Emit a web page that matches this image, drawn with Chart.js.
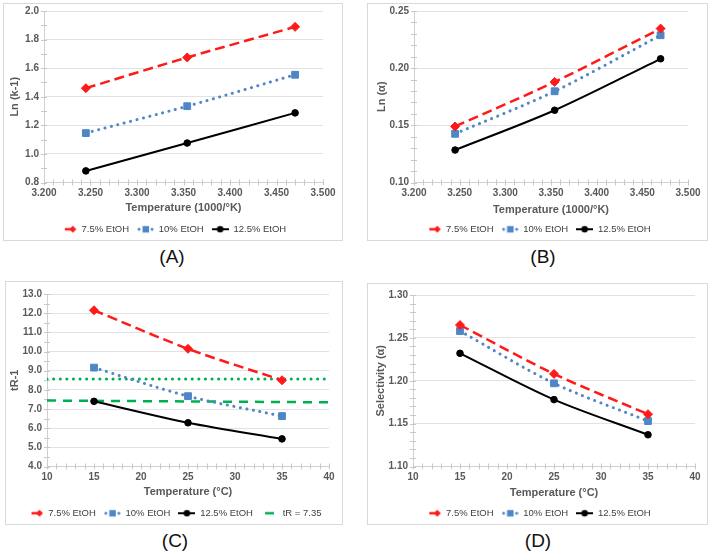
<!DOCTYPE html>
<html><head><meta charset="utf-8">
<script src="https://cdn.jsdelivr.net/npm/chart.js@4"></script>
<style>
body{margin:0;width:709px;height:552px;background:#fff;position:relative;overflow:hidden;font-family:"Liberation Sans",Arial,sans-serif}
.box{position:absolute;border:1px solid #d9d9d9;box-sizing:border-box}
canvas{position:absolute}
.cap{position:absolute;font-size:19px;color:#111;transform:translate(-50%,-50%);white-space:nowrap}
</style></head><body>
<script>
// ---------------- data ----------------
const invTemp = [3.245, 3.354, 3.470];          // 1000/K
const tempC = [15, 25, 35];                     // °C
const seriesNames = ['7.5% EtOH', '10% EtOH', '12.5% EtOH'];

const lnK_75 = [1.460, 1.675, 1.889];
const lnK_10 = [1.146, 1.334, 1.554];
const lnK_125 = [0.881, 1.076, 1.287];

const lnA_75 = [0.149, 0.188, 0.2346];
const lnA_10 = [0.1426, 0.1798, 0.2288];
const lnA_125 = [0.1284, 0.1632, 0.2082];

const tR_75 = [12.15, 10.14, 8.50];
const tR_10 = [9.16, 7.67, 6.63];
const tR_125 = [7.40, 6.28, 5.44];
const refLineX = [10, 40];
const tRRefLabel = 'tR = 7.35';
const tRRef = [7.44, 7.35];
const tRUpper = [8.57, 8.57];

const sel_75 = [1.265, 1.208, 1.161];
const sel_10 = [1.258, 1.197, 1.153];
const sel_125 = [1.232, 1.178, 1.137];

// axis ranges: [min, max, step, minorStep, decimals]
const axInvTemp = [3.2, 3.5, 0.05, 0.01, 3];
const axTempC = [10, 40, 5, 1, 0];
const axLnK = [0.8, 2.0, 0.2, 0.1, 1];
const axLnA = [0.10, 0.25, 0.05, 0.01, 2];
const axTR = [4, 13, 1, 0.5, 1];
const axSel = [1.10, 1.30, 0.05, 0.01, 2];

const xTitleK = 'Temperature (1000/°K)';
const xTitleC = 'Temperature (°C)';
const yTitles = ['Ln (k-1)', 'Ln (α)', 'tR-1', 'Selectivity (α)'];
const captions = ['(A)', '(B)', '(C)', '(D)'];

// ---------------- styling / layout ----------------
const RED = '#ff1a1a', BLUE = '#4f86c6', BLACK = '#000000', GREEN = '#00b050';
const FONT = '"Liberation Sans", Arial, sans-serif';
const LEG_FONT = 9.5, LEG_PAD = 8, ICON_W = 17;

const layoutPanels = [
  {box:[3,3,343,241], plot:[44,10,323,182], yTitleX:15, xTitleOff:25, legOff:47, cap:[172,257]},
  {box:[367,3,708,241], plot:[414,10,688,182], yTitleX:382, xTitleOff:27, legOff:47, cap:[543,257]},
  {box:[5,281,343,525], plot:[47,293,329,466], yTitleX:15, xTitleOff:25, legOff:47, cap:[175,541]},
  {box:[367,283,708,525], plot:[413,294,695,466], yTitleX:381, xTitleOff:26, legOff:47, cap:[538,541]}
];

function icon(kind){
  const c = document.createElement('canvas'); c.width = ICON_W; c.height = 10;
  const g = c.getContext('2d');
  if (kind === 'r') {
    g.strokeStyle = RED; g.lineWidth = 2.5; g.beginPath(); g.moveTo(5,5); g.lineTo(12,5); g.stroke();
    g.fillStyle = RED; g.beginPath(); g.moveTo(13,1.5); g.lineTo(16.5,5); g.lineTo(13,8.5); g.lineTo(9.5,5); g.closePath(); g.fill();
  } else if (kind === 'b') {
    g.fillStyle = BLUE;
    g.beginPath(); g.arc(2,5,1.5,0,Math.PI*2); g.fill();
    g.beginPath(); g.arc(15,5,1.5,0,Math.PI*2); g.fill();
    g.fillRect(5.5,1.8,6.5,6.5);
  } else if (kind === 'k') {
    g.strokeStyle = BLACK; g.lineWidth = 2; g.beginPath(); g.moveTo(0,5); g.lineTo(17,5); g.stroke();
    g.fillStyle = BLACK; g.beginPath(); g.arc(8.5,5,3.3,0,Math.PI*2); g.fill();
  } else if (kind === 'g') {
    g.strokeStyle = GREEN; g.lineWidth = 2.5; g.beginPath(); g.moveTo(4,5); g.lineTo(13,5); g.stroke();
  }
  return c;
}

const styleR = {borderColor:RED, backgroundColor:RED, borderDash:[10,5], borderWidth:2.5, pointStyle:'rectRot', pointRadius:4.5, pointBorderWidth:1, tension:0.3};
const styleB = {borderColor:BLUE, backgroundColor:BLUE, borderDash:[0.1,6.5], borderCapStyle:'round', borderWidth:3, pointStyle:'rect', pointRadius:4.8, pointBorderWidth:1, tension:0.3};
const styleK = {borderColor:BLACK, backgroundColor:BLACK, borderWidth:2, pointStyle:'circle', pointRadius:3.3, pointBorderWidth:1, tension:0.3};

function pts(xs, ys){ return xs.map((x,i)=>({x, y:ys[i]})); }

function threeSeries(xs, a, b, c){
  return [
    Object.assign({label:seriesNames[0], data:pts(xs,a), legendIcon:icon('r')}, styleR),
    Object.assign({label:seriesNames[1], data:pts(xs,b), legendIcon:icon('b')}, styleB),
    Object.assign({label:seriesNames[2], data:pts(xs,c), legendIcon:icon('k')}, styleK)
  ];
}

const minorTicks = {
  id:'minorTicks',
  beforeDatasetsDraw(chart, args, opts){
    const {ctx, chartArea:a} = chart; const x = chart.scales.x, y = chart.scales.y;
    ctx.save(); ctx.strokeStyle = '#c8c8c8'; ctx.lineWidth = 1;
    if (opts.y) {
      const n = Math.round((y.max - y.min)/opts.y);
      for (let i=0;i<=n;i++){ const py = Math.round(y.getPixelForValue(y.min + i*opts.y)) + 0.5;
        ctx.beginPath(); ctx.moveTo(a.left-3, py); ctx.lineTo(a.left+3, py); ctx.stroke(); }
    }
    if (opts.x) {
      const n = Math.round((x.max - x.min)/opts.x);
      for (let i=0;i<=n;i++){ const px = Math.round(x.getPixelForValue(x.min + i*opts.x)) + 0.5;
        ctx.beginPath(); ctx.moveTo(px, a.bottom-3); ctx.lineTo(px, a.bottom+3); ctx.stroke(); }
    }
    ctx.restore();
  }
};

function build(idx, datasets, ax, ay, xTitle){
  const p = layoutPanels[idx];
  const box = document.createElement('div'); box.className = 'box';
  box.style.left = p.box[0]+'px'; box.style.top = p.box[1]+'px';
  box.style.width = (p.box[2]-p.box[0])+'px'; box.style.height = (p.box[3]-p.box[1])+'px';
  document.body.appendChild(box);
  const cap = document.createElement('div'); cap.className = 'cap'; cap.textContent = captions[idx];
  cap.style.left = p.cap[0]+'px'; cap.style.top = p.cap[1]+'px'; document.body.appendChild(cap);

  const lh = 11*1.2;
  const cl = p.box[0]+1, cr = p.box[2]-1;
  const padT = 10;
  const ct = p.plot[1]-padT;
  const hX = Math.round(p.legOff - LEG_PAD - LEG_FONT/2);
  const titlePadB = Math.max(0, hX - (p.xTitleOff + lh/2));
  const legH = LEG_FONT + LEG_PAD + 10;
  const cw = cr - cl;
  const ch = Math.ceil(p.plot[3] + hX + legH - ct);
  const yW = p.plot[0] - cl;
  const rW = cr - p.plot[2];

  const cv = document.createElement('canvas');
  cv.width = cw; cv.height = ch; cv.style.left = cl+'px'; cv.style.top = ct+'px';
  cv.style.width = cw+'px'; cv.style.height = ch+'px';
  document.body.appendChild(cv);

  const tickFont = {family:FONT, size:10, weight:'bold'};
  new Chart(cv, {
    type:'line',
    data:{datasets},
    plugins:[minorTicks],
    options:{
      responsive:false, animation:false, devicePixelRatio:1,
      layout:{padding:{left:0, right:0, top:padT, bottom:0}},
      plugins:{
        minorTicks:{x:ax[3], y:ay[3]},
        tooltip:{enabled:false},
        legend:{
          position:'bottom',
          labels:{
            usePointStyle:true, pointStyleWidth:ICON_W, padding:LEG_PAD,
            font:{family:FONT, size:LEG_FONT}, color:'#404040',
            generateLabels(chart){
              return chart.data.datasets.map((d,i)=>({text:d.label, pointStyle:d.legendIcon, fillStyle:'rgba(0,0,0,0)', strokeStyle:'rgba(0,0,0,0)', lineWidth:0, hidden:false, datasetIndex:i, fontColor:'#404040'})).filter(l=>l.pointStyle);
            }
          }
        }
      },
      scales:{
        x:{type:'linear', min:ax[0], max:ax[1],
          ticks:{stepSize:ax[2], font:tickFont, color:'#595959', padding:5, maxRotation:0, autoSkip:false,
            callback:(v)=>Number(v).toFixed(ax[4])},
          grid:{display:false, drawTicks:false}, border:{color:'#d0d0d0'},
          title:{display:true, text:xTitle, font:{family:FONT, size:11, weight:'bold'}, color:'#595959', padding:{top:0,bottom:titlePadB}},
          afterFit(s){ s.height = hX; }
        },
        y:{type:'linear', min:ay[0], max:ay[1],
          ticks:{stepSize:ay[2], font:tickFont, color:'#595959', padding:5, autoSkip:false,
            callback:(v)=>Number(v).toFixed(ay[4])},
          grid:{color:'#e2e2e2', drawTicks:false}, border:{color:'#d0d0d0'},
          title:{display:true, text:yTitles[idx], font:{family:FONT, size:11, weight:'bold'}, color:'#595959', padding:{top:p.yTitleX - cl - lh/2, bottom:0}},
          afterFit(s){ s.width = yW; }
        },
        yR:{position:'right', display:true, grid:{display:false, drawTicks:false}, border:{display:false}, ticks:{display:false},
          afterFit(s){ s.width = rW; }
        }
      }
    }
  });
}

build(0, threeSeries(invTemp, lnK_75, lnK_10, lnK_125), axInvTemp, axLnK, xTitleK);
build(1, threeSeries(invTemp, lnA_75, lnA_10, lnA_125), axInvTemp, axLnA, xTitleK);
build(2, threeSeries(tempC, tR_75, tR_10, tR_125).concat([
  {label:tRRefLabel, data:pts(refLineX, tRRef), borderColor:GREEN, backgroundColor:GREEN, borderDash:[9,7], borderWidth:2.5, pointRadius:0, legendIcon:icon('g')},
  {label:'tR upper', data:pts(refLineX, tRUpper), borderColor:GREEN, backgroundColor:GREEN, borderDash:[0.1,6.5], borderCapStyle:'round', borderWidth:3, pointRadius:0}
]), axTempC, axTR, xTitleC);
build(3, threeSeries(tempC, sel_75, sel_10, sel_125), axTempC, axSel, xTitleC);
</script>
</body></html>
